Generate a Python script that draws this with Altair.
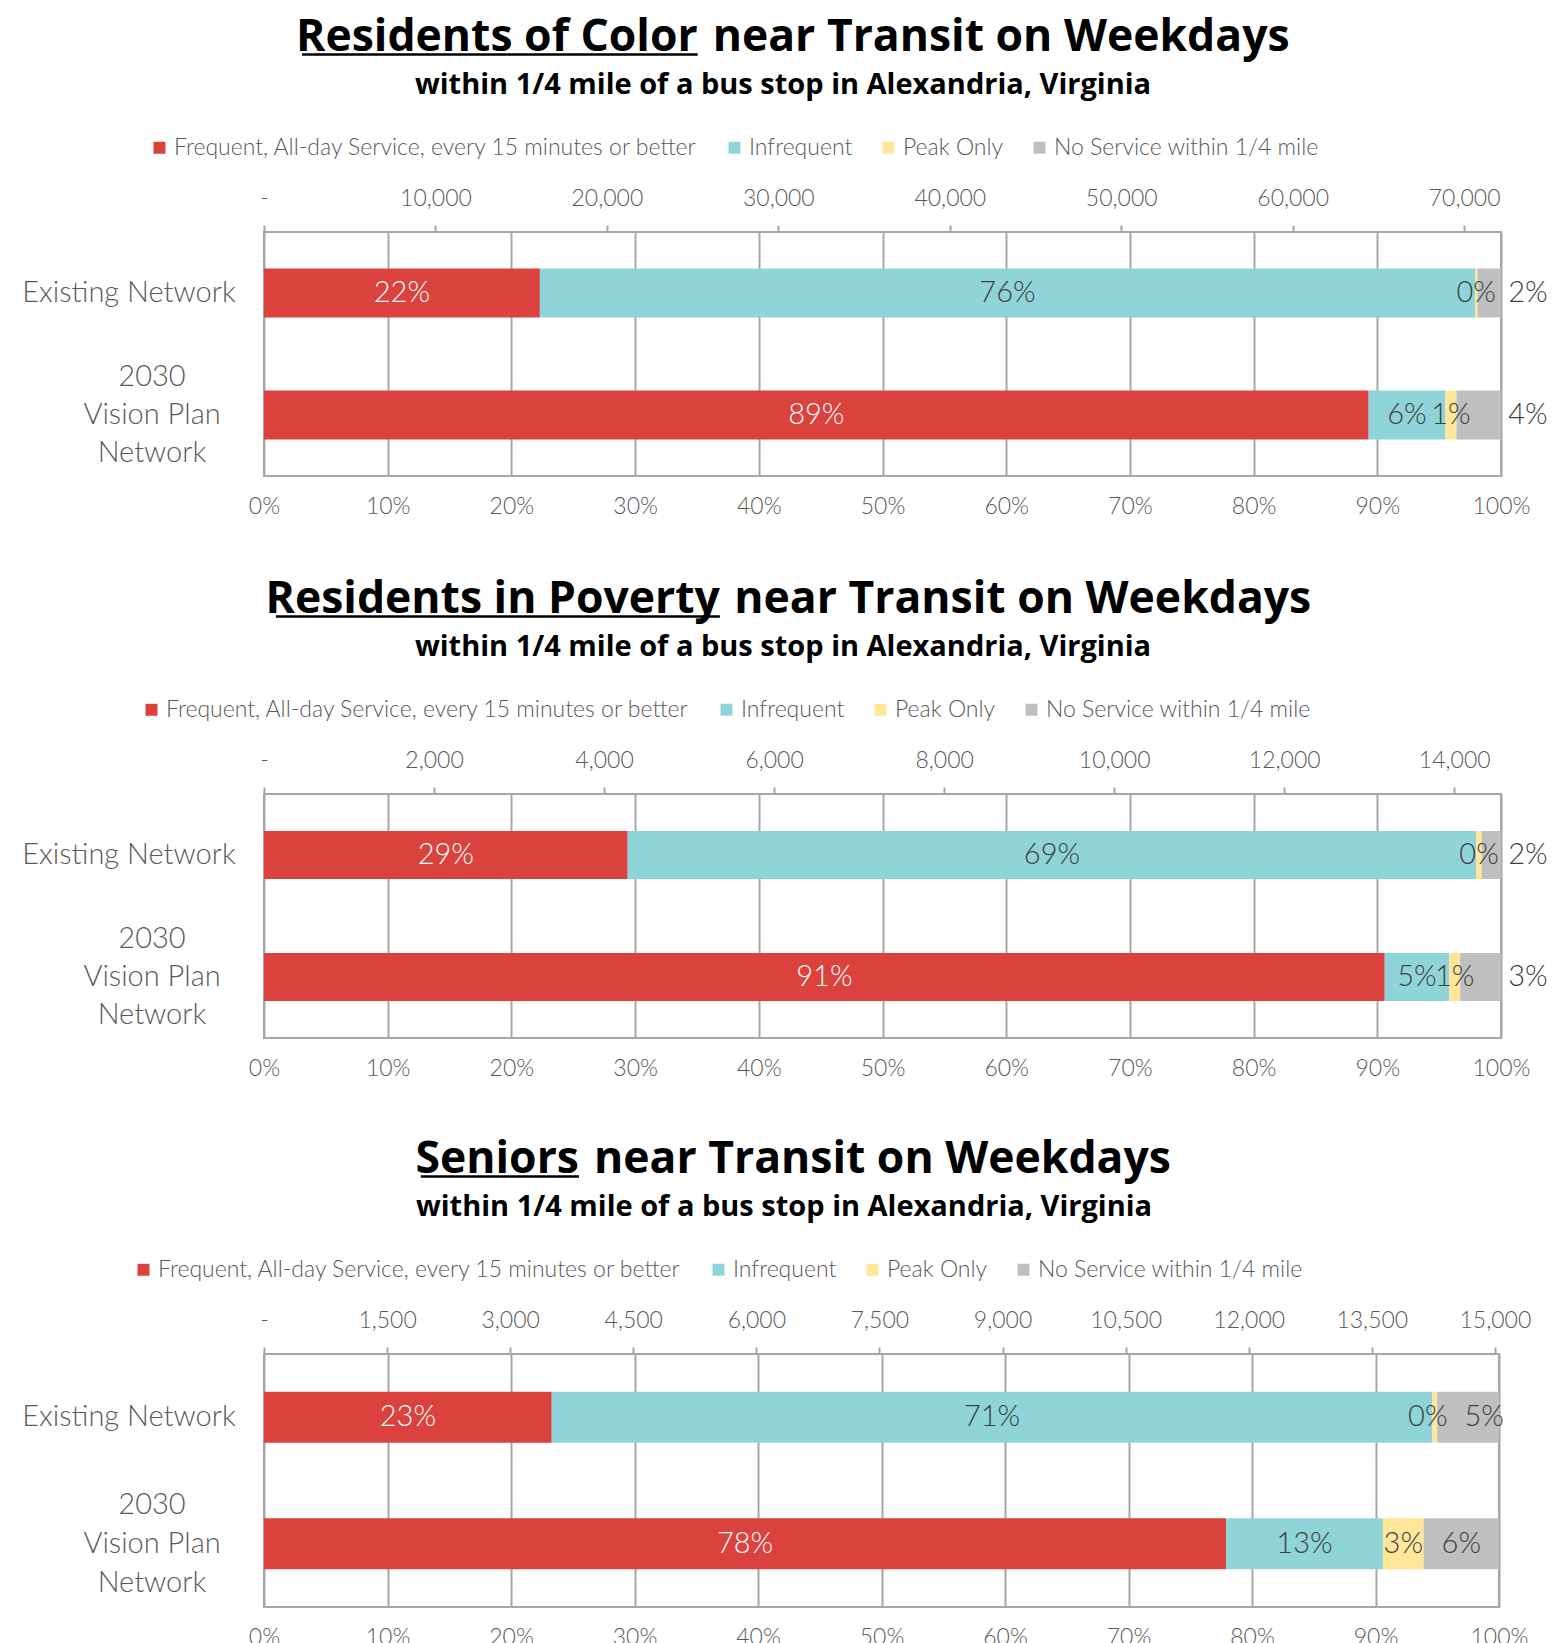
import altair as alt
import pandas as pd

FONT = "Lato"
TFONT = "Open Sans"

# ---------------- data ----------------
series = [
    "Frequent, All-day Service, every 15 minutes or better",
    "Infrequent",
    "Peak Only",
    "No Service within 1/4 mile",
]
colors = ["#DB413D", "#8FD4D9", "#FFE699", "#BFBFBF"]
networks = ["Existing Network", "2030 Vision Plan Network"]
network_labels = ["Existing Network", "2030\nVision Plan\nNetwork"]

title_underlined = ["Residents of Color", "Residents in Poverty", "Seniors"]
title_rest = ["near Transit on Weekdays", "near Transit on Weekdays", "near Transit on Weekdays"]
subtitle = "within 1/4 mile of a bus stop in Alexandria, Virginia"

# share of residents by service level: [Frequent, Infrequent, Peak Only, No Service]
color_existing = [0.223, 0.756, 0.002, 0.019]
color_vision = [0.893, 0.062, 0.009, 0.036]
poverty_existing = [0.294, 0.686, 0.0045, 0.0155]
poverty_vision = [0.906, 0.052, 0.009, 0.033]
seniors_existing = [0.233, 0.713, 0.004, 0.050]
seniors_vision = [0.779, 0.127, 0.033, 0.061]

panel_shares = [
    (color_existing, color_vision),
    (poverty_existing, poverty_vision),
    (seniors_existing, seniors_vision),
]

population_totals = [72150, 14550, 15050]
count_tick_steps = [10000, 2000, 1500]
pct_ticks = [0, 0.1, 0.2, 0.3, 0.4, 0.5, 0.6, 0.7, 0.8, 0.9, 1.0]

# ---------------- layout / style per panel ----------------
LEFT = 254
TSIZE = 44.5
TITLE_Y = -181.5
styles = [
    dict(w=1237, h=244, bar=49, bottom=92, split=433.7, near=448.7, uw=395.6,
         sub_x=519, legend_x=-116, outside_gray=True, lh=38, nudges={}),
    dict(w=1237, h=244, bar=48, bottom=90, split=455.9, near=470.3, uw=444.0,
         sub_x=519, legend_x=-124, outside_gray=True, lh=38, nudges={}),
    dict(w=1235, h=253, bar=51, bottom=50, split=315.0, near=330.0, uw=158.2,
         sub_x=520, legend_x=-132, outside_gray=False, lh=39,
         nudges={(0, 2): -7, (0, 3): 16}),
]

GRID = "#a6a6a6"
LABEL = "#595959"
DATA_LABEL = "#404040"


def one_row():
    return pd.DataFrame({"k": [0]})


def make_panel(i):
    st = styles[i]
    existing, vision = panel_shares[i]
    rows = []
    for ni, (net, vals) in enumerate(zip(networks, (existing, vision))):
        for j, (s, v) in enumerate(zip(series, vals)):
            rows.append({"network": net, "ni": ni, "series": s, "order": j, "pct": v})
    df = pd.DataFrame(rows)

    yenc = alt.Y("network:N", sort=networks,
                 scale=alt.Scale(paddingInner=0, paddingOuter=0), axis=None)

    base = (
        alt.Chart(df)
        .transform_stack(stack="pct", as_=["x0", "x1"], groupby=["network"],
                         sort=[alt.SortField("order", order="ascending")])
        .transform_calculate(mid="(datum.x0 + datum.x1) / 2")
    )

    bottom_axis = alt.Axis(
        orient="bottom", values=pct_ticks, format=".0%", ticks=False, tickSize=0,
        domain=False, grid=True, gridColor=GRID, gridWidth=2, labelPadding=19,
        labelFont=FONT, labelFontSize=23, labelColor=LABEL, labelFontWeight=300,
        labelFlush=False, labelOverlap=False, title=None,
    )

    bars = base.mark_bar(size=st["bar"]).encode(
        x=alt.X("x0:Q", scale=alt.Scale(domain=[0, 1], nice=False, zero=True), axis=bottom_axis),
        x2="x1:Q",
        y=yenc,
        color=alt.Color(
            "series:N",
            scale=alt.Scale(domain=series, range=colors),
            legend=alt.Legend(
                orient="none", legendX=st["legend_x"], legendY=-96, direction="horizontal",
                title=None, symbolType="square", symbolSize=144, symbolStrokeWidth=0,
                labelFont=FONT, labelFontSize=23, labelColor=LABEL, labelFontWeight=300,
                labelLimit=2000, columnPadding=24, labelOffset=3, padding=0,
            ),
        ),
    )

    txt_color = alt.condition(alt.datum.series == series[0], alt.value("white"), alt.value(DATA_LABEL))
    label_kw = dict(font=FONT, fontSize=29, fontWeight=300, baseline="middle")

    # generic (centred) segment labels
    excl = []
    if st["outside_gray"]:
        excl.append("datum.order == 3")
    for (ni, j) in st["nudges"]:
        excl.append(f"(datum.ni == {ni} && datum.order == {j})")
    generic = base
    if excl:
        generic = base.transform_filter("!(" + " || ".join(excl) + ")")
    layers = [
        bars,
        generic.mark_text(**label_kw).encode(
            x=alt.X("mid:Q"), y=yenc, text=alt.Text("pct:Q", format=".0%"), color=txt_color
        ),
    ]
    # nudged labels (small neighbouring segments)
    for (ni, j), dx in st["nudges"].items():
        layers.append(
            base.transform_filter(f"datum.ni == {ni} && datum.order == {j}")
            .mark_text(dx=dx, color=DATA_LABEL, **label_kw)
            .encode(x=alt.X("mid:Q"), y=yenc, text=alt.Text("pct:Q", format=".0%"))
        )
    # "no service" labels placed just outside the bar end
    if st["outside_gray"]:
        layers.append(
            base.transform_filter("datum.order == 3")
            .mark_text(dx=27, color=DATA_LABEL, **label_kw)
            .encode(x=alt.X("x1:Q"), y=yenc, text=alt.Text("pct:Q", format=".0%"))
        )

    # category labels at left
    lab_df = pd.DataFrame({"network": networks, "label": network_labels})
    lab_base = alt.Chart(lab_df)
    lab1 = lab_base.transform_filter(alt.datum.network == networks[0]).mark_text(
        font=FONT, fontSize=29, fontWeight=300, color=LABEL, align="center", baseline="middle"
    ).encode(x=alt.value(-135), y=yenc, text="label:N")
    lab2 = lab_base.transform_filter(alt.datum.network == networks[1]).mark_text(
        font=FONT, fontSize=29, fontWeight=300, color=LABEL, align="center", baseline="middle",
        lineBreak="\n", lineHeight=st["lh"], dy=-st["lh"],
    ).encode(x=alt.value(-112), y=yenc, text="label:N")
    layers += [lab1, lab2]

    # titles
    t1 = alt.Chart(one_row()).mark_text(
        font=TFONT, fontSize=TSIZE, fontWeight="bold", color="black", align="right", baseline="alphabetic"
    ).encode(x=alt.value(st["split"]), y=alt.value(TITLE_Y), text=alt.value(title_underlined[i]))
    t2 = alt.Chart(one_row()).mark_text(
        font=TFONT, fontSize=TSIZE, fontWeight="bold", color="black", align="left", baseline="alphabetic"
    ).encode(x=alt.value(st["near"]), y=alt.value(TITLE_Y), text=alt.value(title_rest[i]))
    uline = alt.Chart(one_row()).mark_rule(color="black", strokeWidth=2.5).encode(
        x=alt.value(st["split"] - st["uw"]), x2=alt.value(st["split"]), y=alt.value(TITLE_Y + 4)
    )
    sub = alt.Chart(one_row()).mark_text(
        font=TFONT, fontSize=29, fontWeight="bold", color="black", align="center", baseline="alphabetic"
    ).encode(x=alt.value(st["sub_x"]), y=alt.value(-138), text=alt.value(subtitle))
    anchor = alt.Chart(one_row()).mark_rule(color="white", strokeWidth=1).encode(
        x=alt.value(-LEFT), y=alt.value(-222), y2=alt.value(st["h"] + st["bottom"])
    )
    layers += [t1, t2, uline, sub, anchor]

    inner = alt.layer(*layers)

    total = population_totals[i]
    step = count_tick_steps[i]
    count_ticks = list(range(0, total + 1, step))
    top_axis = alt.Axis(
        orient="top", values=count_ticks,
        labelExpr="datum.value == 0 ? '-' : format(datum.value, ',')",
        labelFont=FONT, labelFontSize=23, labelColor=LABEL, labelFontWeight=300,
        tickColor=GRID, tickWidth=2, tickSize=7, domain=False, grid=False,
        labelPadding=15, title=None, labelFlush=False, labelOverlap=False,
    )
    count_layer = alt.Chart(pd.DataFrame({"count": [0, total]})).mark_point(opacity=0).encode(
        x=alt.X("count:Q", scale=alt.Scale(domain=[0, total], nice=False, zero=True), axis=top_axis)
    )

    return alt.layer(inner, count_layer).resolve_scale(x="independent").properties(
        width=st["w"], height=st["h"]
    )


chart = (
    alt.vconcat(*[make_panel(i) for i in range(3)], spacing=0)
    .resolve_scale(color="independent")
    .resolve_legend(color="independent")
    .properties(padding=0)
    .configure_view(stroke=GRID, strokeWidth=2)
)

chart.save("out.html", embed_options={"renderer": "svg", "actions": False})
